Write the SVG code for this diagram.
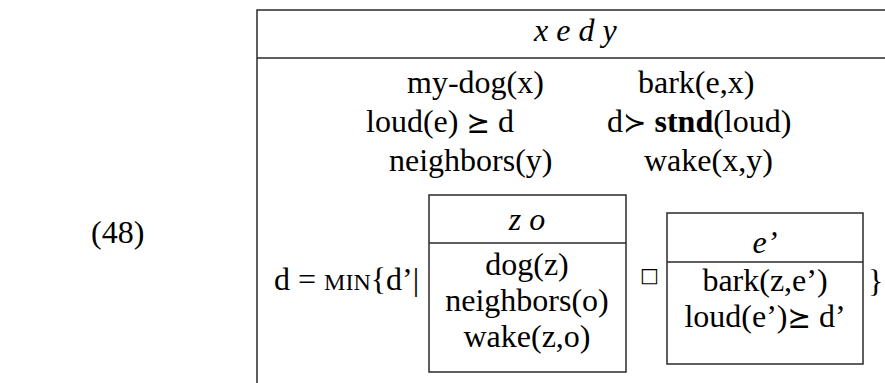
<svg xmlns="http://www.w3.org/2000/svg" width="885" height="383" viewBox="0 0 885 383">
<style>
.t{font-family:"Liberation Serif","Times New Roman",serif;font-size:32px;fill:#000}
.i{font-style:italic}
.m{text-anchor:middle}
.sym{font-family:"DejaVu Sans","DejaVu Serif",sans-serif;font-size:28px}
.sc{font-size:24px}
.b{font-weight:bold}
.ln{fill:none;stroke:#2a2a2a;stroke-width:1.5}
</style>
<rect width="885" height="383" fill="#fff"/>
<g id="label"><text class="t" x="91" y="243">(48)</text></g>
<g id="drs-main">
<path class="ln" d="M885,10 H257 V383"/>
<line class="ln" x1="257" y1="58" x2="885" y2="58"/>
<text class="t i" x="534" y="41">x e d y</text>
<text class="t" x="407" y="93">my-dog(x)</text>
<text class="t" x="638" y="93">bark(e,x)</text>
<text class="t" x="366" y="132">loud(e) <tspan class="sym">⪰</tspan> d</text>
<text class="t" x="607" y="132">d<tspan class="sym">≻</tspan> <tspan class="b">stnd</tspan>(loud)</text>
<text class="t" x="389" y="171">neighbors(y)</text>
<text class="t" x="644" y="171">wake(x,y)</text>
<text class="t" x="274" y="290">d = <tspan class="sc">MIN</tspan>{d’|</text>
<text class="t" x="868" y="292">}</text>
</g>
<g id="drs-zo">
<rect class="ln" x="429" y="195" width="197" height="177"/>
<line class="ln" x1="429" y1="243" x2="626" y2="243"/>
<text class="t i m" x="527" y="230">z o</text>
<text class="t m" x="527" y="275">dog(z)</text>
<text class="t m" x="527" y="311">neighbors(o)</text>
<text class="t m" x="527" y="347">wake(z,o)</text>
</g>
<g id="box-op"><text class="sym" x="640" y="282" style="font-size:20px">□</text></g>
<g id="drs-e">
<rect class="ln" x="667" y="213" width="196" height="151"/>
<line class="ln" x1="667" y1="262" x2="863" y2="262"/>
<text class="t i m" x="765" y="253">e’</text>
<text class="t m" x="765" y="291">bark(z,e’)</text>
<text class="t m" x="765" y="327">loud(e’)<tspan class="sym">⪰</tspan> d’</text>
</g>
<g id="connectors"/>
</svg>
